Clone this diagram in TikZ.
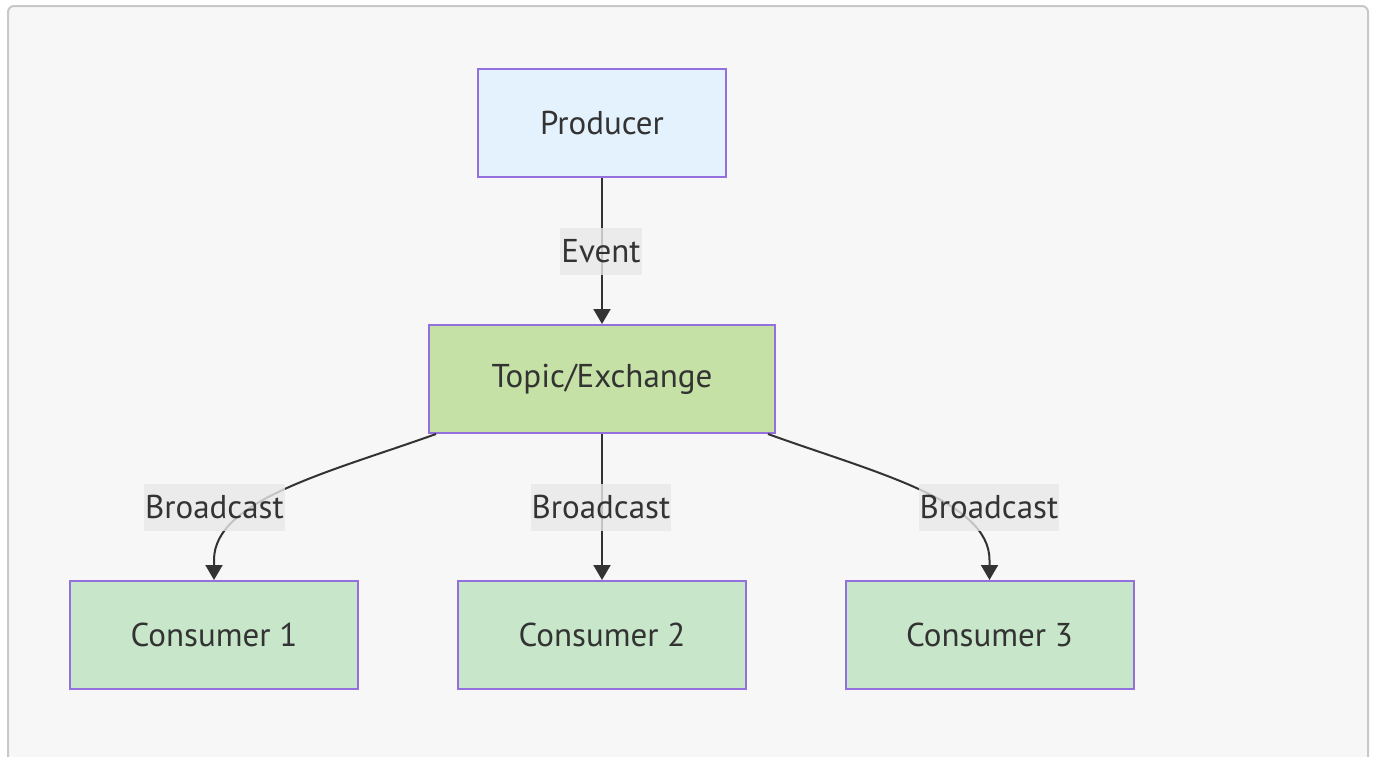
\documentclass[tikz,border=0pt]{standalone}
\usepackage{fontspec}
\setmainfont{PT Sans}
\usetikzlibrary{arrows.meta}
\definecolor{frameline}{HTML}{C8C8C8}
\definecolor{canvas}{HTML}{F7F7F7}
\definecolor{boxline}{HTML}{9370DB}
\definecolor{ink}{HTML}{333333}
\definecolor{prodfill}{HTML}{E3F2FD}
\definecolor{topicfill}{HTML}{C5E1A5}
\definecolor{consfill}{HTML}{C8E6C9}
\definecolor{labelbg}{HTML}{E8E8E8}
\tikzset{
  txt/.style={text=ink, font=\fontsize{33}{40}\selectfont},
  flowbox/.style={txt, draw=boxline, line width=2pt, minimum height=108pt, inner sep=0pt},
  edgelabel/.style={txt, fill=labelbg, fill opacity=0.8, text opacity=1, minimum height=47pt, inner xsep=1pt, inner ysep=0pt},
  link/.style={draw=ink, line width=2pt, -{Triangle[length=15pt,width=17pt]}},
}
\begin{document}
\begin{tikzpicture}[x=1pt,y=-1pt]
  \useasboundingbox (0,0) rectangle (1373,756);
  \clip (0,0) rectangle (1373,756);
  % framed canvas
  \draw[frameline, fill=canvas, line width=2pt, rounded corners=6pt] (8,6) rectangle (1368,780);

  % boxes
  \node[flowbox, fill=prodfill, minimum width=248pt] (producer) at (602,123) {Producer};
  \node[flowbox, fill=topicfill, minimum width=346pt] (topic) at (602,379) {Topic/Exchange};
  \node[flowbox, fill=consfill, minimum width=288pt] (c1) at (214,635) {Consumer 1};
  \node[flowbox, fill=consfill, minimum width=288pt] (c2) at (602,635) {Consumer 2};
  \node[flowbox, fill=consfill, minimum width=288pt] (c3) at (989.5,635) {Consumer 3};

  % connectors
  \draw[link] (producer.south) -- (topic.north);
  \draw[link] (topic.south) -- (c2.north);
  \coordinate (t1) at ([xshift=8pt]topic.south west);
  \coordinate (t3) at ([xshift=-8pt]topic.south east);
  \draw[link] (t1) .. controls (330,472) and (214,500) .. (214,560) -- (c1.north);
  \draw[link] (t3) .. controls (873,472) and (989.5,500) .. (989.5,560) -- (c3.north);

  % edge labels
  \node[edgelabel] (levent) at (601,251.5) {Event};
  \node[edgelabel] (lb1) at (214.5,507) {Broadcast};
  \node[edgelabel] (lb2) at (601,507) {Broadcast};
  \node[edgelabel] (lb3) at (989,507) {Broadcast};
\end{tikzpicture}
\end{document}
